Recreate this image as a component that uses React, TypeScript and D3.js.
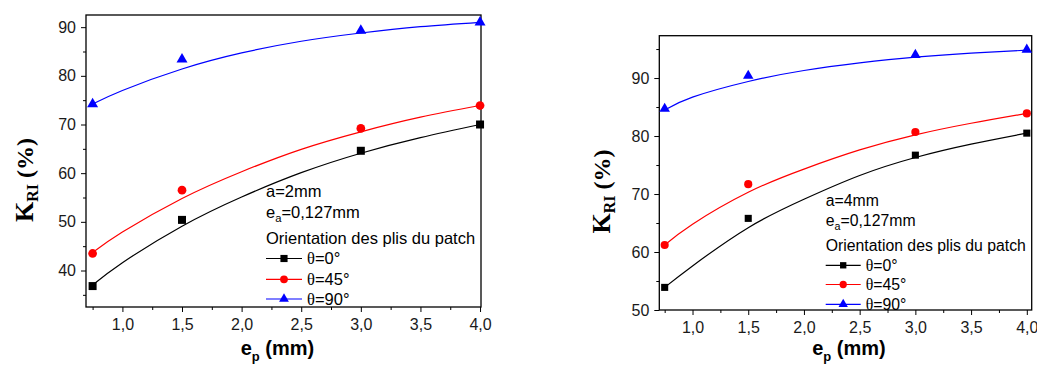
import React, { useEffect, useRef } from 'react';
import * as d3 from 'd3';

// plate thickness e_p (mm)
const thickness = [0.75, 1.5, 3.0, 4.0];
const fitThickness = [0.75, 1.0, 1.5, 2.0, 2.5, 3.0, 3.5, 4.0];

// a = 2mm : measured K_RI (%) and fitted curves
const kri0_a2 = [36.8, 50.4, 64.6, 70.0];
const kri45_a2 = [43.5, 56.5, 69.2, 73.9];
const kri90_a2 = [74.2, 83.4, 89.3, 91.0];
const fit0_a2 = [37.0, 41.6, 49.1, 55.1, 60.1, 64.1, 67.3, 70.0];
const fit45_a2 = [43.7, 47.9, 54.8, 60.3, 64.9, 68.5, 71.5, 73.9];
const fit90_a2 = [74.2, 77.0, 81.4, 84.7, 87.1, 88.8, 90.1, 91.0];

// a = 4mm
const kri0_a4 = [53.9, 65.8, 76.7, 80.5];
const kri45_a4 = [61.2, 71.7, 80.7, 83.9];
const kri90_a4 = [84.7, 90.4, 94.0, 94.9];
const fit0_a4 = [53.9, 57.6, 64.2, 69.1, 73.2, 76.3, 78.6, 80.5];
const fit45_a4 = [61.2, 64.8, 70.3, 74.3, 77.6, 80.2, 82.2, 83.9];
const fit90_a4 = [84.5, 86.7, 89.4, 91.3, 92.6, 93.6, 94.3, 94.8];

const xMajorTicks = [1.0, 1.5, 2.0, 2.5, 3.0, 3.5, 4.0];
const xMinorTicks = [0.75, 1.25, 1.75, 2.25, 2.75, 3.25, 3.75];
const yMajor_a2 = [40, 50, 60, 70, 80, 90];
const yMinor_a2 = [35, 45, 55, 65, 75, 85];
const yMajor_a4 = [50, 60, 70, 80, 90];
const yMinor_a4 = [55, 65, 75, 85, 95];

const angles = ['0', '45', '90'];
const colors = ['#000000', '#ff0000', '#0000ff'];
const shapes = [d3.symbolSquare, d3.symbolCircle, d3.symbolTriangle];

const SANS = '"Liberation Sans", Arial, sans-serif';
const SERIF = '"Liberation Serif", "Times New Roman", serif';

const comma = (v) => d3.format('.1f')(v).replace('.', ',');

function drawPanel(g, cfg) {
  const { l, r, t, b } = cfg;
  const x = d3.scaleLinear().domain(cfg.xDomain).range([l, r]);
  const y = d3.scaleLinear().domain(cfg.yDomain).range([b, t]);

  // x axis
  const ax = g.append('g').attr('transform', `translate(0,${b})`);
  ax.call(d3.axisBottom(x).tickValues(xMajorTicks).tickSize(5).tickPadding(6.5).tickFormat(comma));
  ax.append('g').call(d3.axisBottom(x).tickValues(xMinorTicks).tickSize(3).tickFormat(() => ''));
  // y axis
  const ay = g.append('g').attr('transform', `translate(${l},0)`);
  ay.call(d3.axisLeft(y).tickValues(cfg.yMajor).tickSize(5).tickPadding(5).tickFormat(d3.format('d')));
  ay.append('g').call(d3.axisLeft(y).tickValues(cfg.yMinor).tickSize(3).tickFormat(() => ''));
  g.selectAll('.domain').remove();
  g.selectAll('.tick line').attr('stroke', '#000').attr('stroke-width', 1);
  g.selectAll('.tick text').attr('font-family', SANS).attr('font-size', cfg.tickSize).attr('fill', '#1a1a1a');

  // frame
  g.append('rect').attr('x', l).attr('y', t).attr('width', r - l).attr('height', b - t)
    .attr('fill', 'none').attr('stroke', '#000').attr('stroke-width', 1.3);

  // fitted curves
  const line = d3.line().x(d => x(d[0])).y(d => y(d[1])).curve(d3.curveNatural);
  cfg.fits.forEach((f, i) => {
    g.append('path').datum(fitThickness.map((v, j) => [v, f[j]]))
      .attr('d', line).attr('fill', 'none').attr('stroke', colors[i]).attr('stroke-width', 1.2);
  });

  // measured points
  cfg.points.forEach((p, i) => {
    g.append('g').selectAll('path').data(thickness.map((v, j) => [v, p[j]])).enter()
      .append('path')
      .attr('transform', d => `translate(${x(d[0])},${y(d[1])})`)
      .attr('d', d3.symbol().type(shapes[i]).size(cfg.markerSizes[i]))
      .attr('fill', colors[i]);
  });

  // annotation + legend
  const fs = cfg.noteSize;
  const nx = cfg.noteX;
  g.append('text').attr('x', nx).attr('y', cfg.noteY[0]).attr('font-family', SANS).attr('font-size', fs)
    .text(cfg.aText);
  const ea = g.append('text').attr('x', nx).attr('y', cfg.noteY[1]).attr('font-family', SANS).attr('font-size', fs);
  ea.append('tspan').text('e');
  ea.append('tspan').attr('font-size', fs * 0.68).attr('dy', 4).text('a');
  ea.append('tspan').attr('dy', -4).text('=0,127mm');
  g.append('text').attr('x', nx).attr('y', cfg.noteY[2]).attr('font-family', SANS).attr('font-size', fs)
    .text('Orientation des plis du patch');

  angles.forEach((a, i) => {
    const ry = cfg.legendY[i];
    g.append('line').attr('x1', nx).attr('x2', nx + cfg.legendLen).attr('y1', ry).attr('y2', ry)
      .attr('stroke', colors[i]).attr('stroke-width', 1.2);
    g.append('path').attr('transform', `translate(${nx + cfg.legendLen / 2},${ry})`)
      .attr('d', d3.symbol().type(shapes[i]).size(cfg.markerSizes[i] * 0.8)).attr('fill', colors[i]);
    const tx = g.append('text').attr('x', nx + cfg.legendLen + 5).attr('y', ry + fs * 0.36)
      .attr('font-family', SANS).attr('font-size', fs);
    tx.append('tspan').attr('font-family', SERIF).text('θ');
    tx.append('tspan').text(`=${a}°`);
  });

  // axis titles
  const yl = g.append('text')
    .attr('transform', `translate(${cfg.yLabel[0]},${cfg.yLabel[1]}) rotate(-90)`)
    .attr('text-anchor', 'middle').attr('font-family', SERIF).attr('font-weight', 'bold');
  yl.append('tspan').attr('font-size', 26).text('K');
  yl.append('tspan').attr('font-size', 16).attr('dy', 5).text('RI');
  yl.append('tspan').attr('font-size', 24).attr('dy', -5).text(' (%)');

  const xl = g.append('text').attr('x', cfg.xLabel[0]).attr('y', cfg.xLabel[1])
    .attr('text-anchor', 'middle').attr('font-family', SANS).attr('font-weight', 'bold');
  xl.append('tspan').attr('font-size', 20).text('e');
  xl.append('tspan').attr('font-size', 13).attr('dy', 6).text('p');
  xl.append('tspan').attr('font-size', 20).attr('dy', -6).text(' (mm)');
}

const App = () => {
  const svgRef = useRef(null);

  useEffect(() => {
    const svg = d3.select(svgRef.current);
    svg.selectAll('*').remove();

    drawPanel(svg.append('g'), {
      l: 86, r: 481, t: 15, b: 307,
      xDomain: [0.6946, 4.008], yDomain: [32.5, 92.5],
      yMajor: yMajor_a2, yMinor: yMinor_a2,
      points: [kri0_a2, kri45_a2, kri90_a2],
      fits: [fit0_a2, fit45_a2, fit90_a2],
      markerSizes: [64, 60, 52],
      tickSize: 16, noteSize: 16.5,
      aText: 'a=2mm', noteX: 266, noteY: [196.5, 218, 243.5],
      legendY: [258.5, 279.3, 299], legendLen: 36,
      yLabel: [32.5, 180], xLabel: [277.5, 355],
    });

    drawPanel(svg.append('g'), {
      l: 659.3, r: 1031.7, t: 35.7, b: 310,
      xDomain: [0.7018, 4.044], yDomain: [50, 97.3],
      yMajor: yMajor_a4, yMinor: yMinor_a4,
      points: [kri0_a4, kri45_a4, kri90_a4],
      fits: [fit0_a4, fit45_a4, fit90_a4],
      markerSizes: [50, 52, 48],
      tickSize: 16, noteSize: 15.8,
      aText: 'a=4mm', noteX: 825.7, noteY: [206, 226, 251],
      legendY: [265.3, 284.5, 304.3], legendLen: 35,
      yLabel: [610, 191.5], xLabel: [849, 355],
    });
  }, []);

  return (
    <svg ref={svgRef} width={1037} height={365}
      style={{ position: 'absolute', left: 0, top: 0, background: '#fff' }} />
  );
};

export default App;
